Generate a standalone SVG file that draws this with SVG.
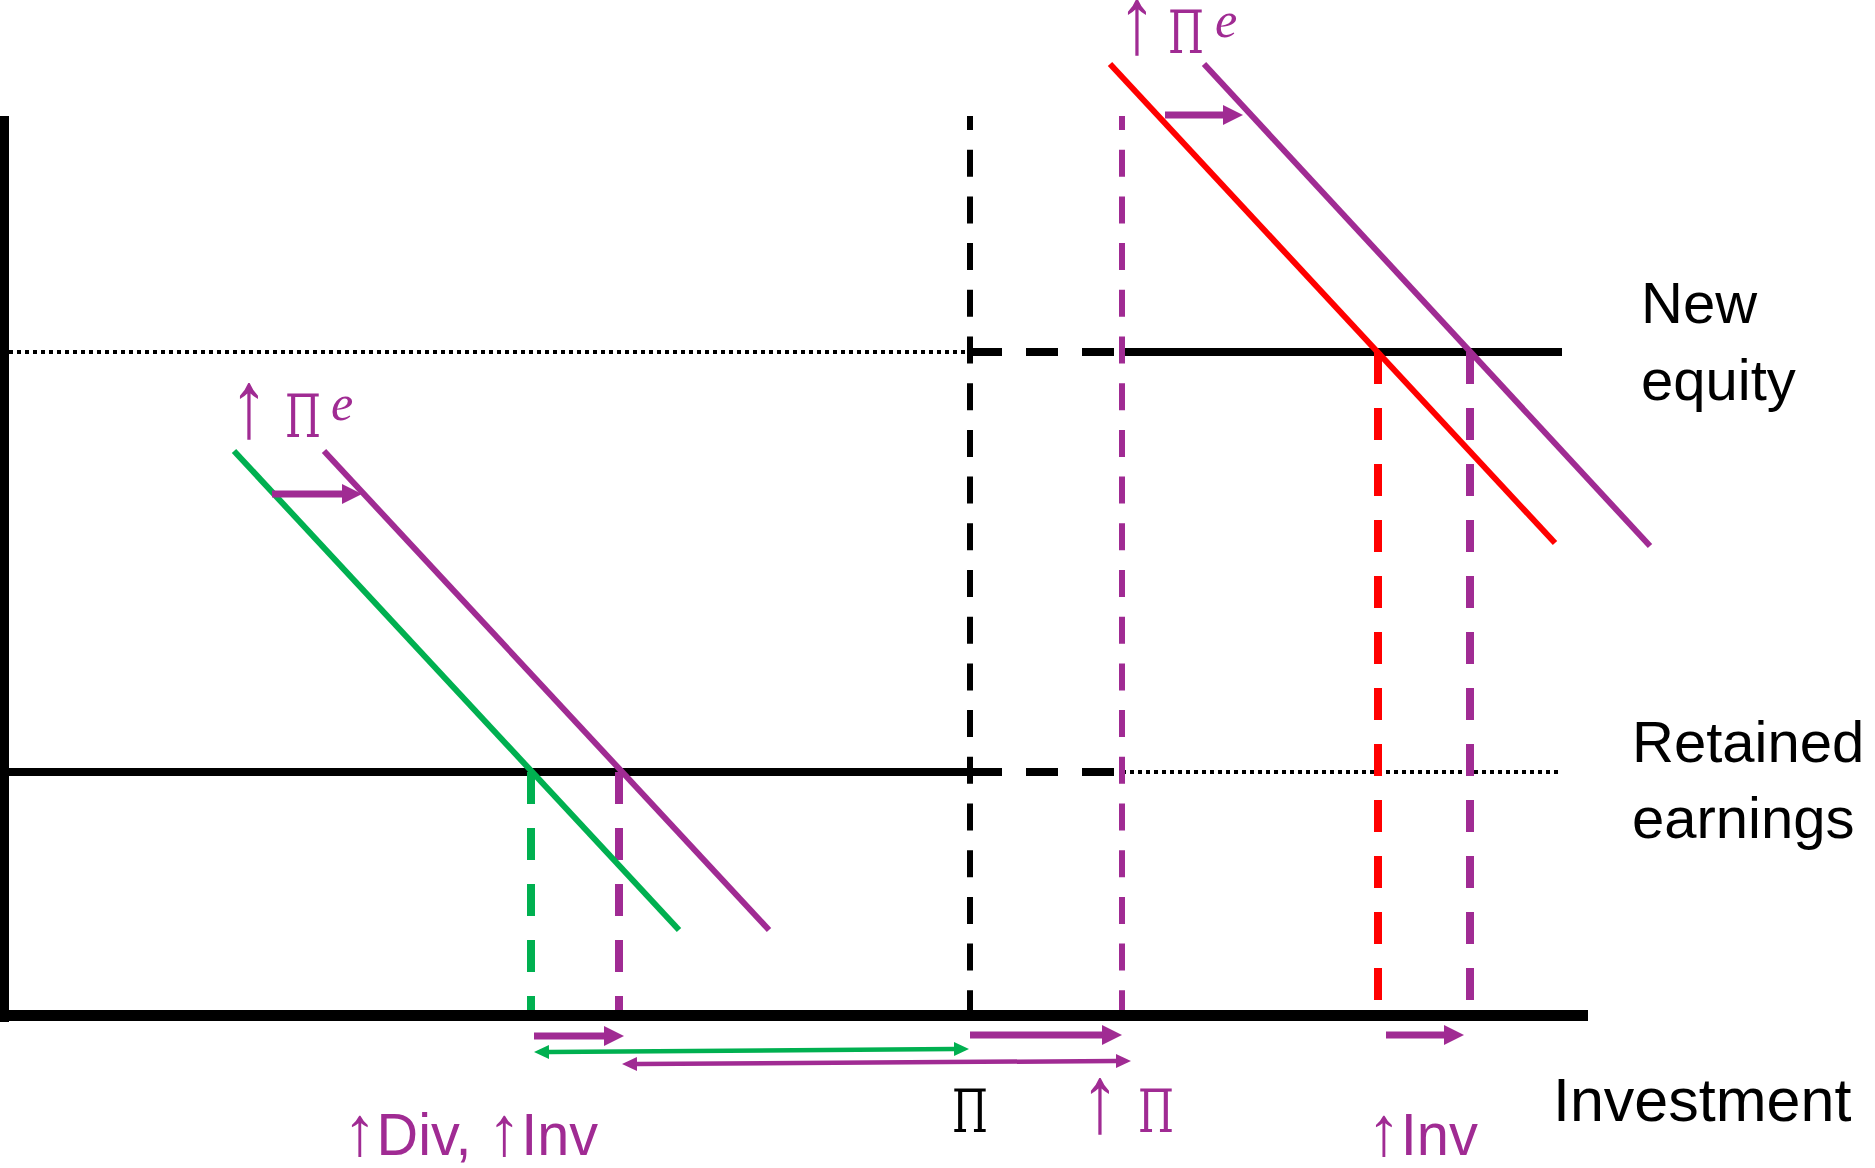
<svg xmlns="http://www.w3.org/2000/svg" width="1875" height="1168" viewBox="0 0 1875 1168">
<style>
.ax{stroke:#000;fill:none}
.blk{stroke:#000;stroke-width:8;fill:none}
.dot{stroke:#000;stroke-width:4;stroke-dasharray:4 4;fill:none}
.bdash{stroke:#000;stroke-width:8;stroke-dasharray:32 24;fill:none}
.vdash{stroke-width:6;stroke-dasharray:27 19.7;fill:none}
.cdash{stroke-width:8;stroke-dasharray:32 24;fill:none}
.curve{stroke-width:6;fill:none}
.pur{stroke:#A02B93}
.grn{stroke:#00B050}
.red{stroke:#FF0000}
.thick{stroke-width:7;fill:none}
.thin{stroke-width:4.5;fill:none}
.sans{font-family:"Liberation Sans",Arial,sans-serif}
.serif{font-family:"Liberation Serif","Times New Roman",serif}
.pi{font-family:"DejaVu Serif","Liberation Serif",serif;font-size:59px}
.tp{fill:#A02B93}
</style>
<defs>
<marker id="hp" markerUnits="userSpaceOnUse" markerWidth="20" markerHeight="20" refX="0" refY="10" orient="auto" viewBox="0 0 20 20"><polygon points="0,0 20,10 0,20" fill="#A02B93"/></marker>
<marker id="hps" markerUnits="userSpaceOnUse" markerWidth="15" markerHeight="14" refX="0" refY="7" orient="auto-start-reverse" viewBox="0 0 15 14"><polygon points="0,0 15,7 0,14" fill="#A02B93"/></marker>
<marker id="hgs" markerUnits="userSpaceOnUse" markerWidth="15" markerHeight="14" refX="0" refY="7" orient="auto-start-reverse" viewBox="0 0 15 14"><polygon points="0,0 15,7 0,14" fill="#00B050"/></marker>
</defs>

<g id="axes">
<rect x="0" y="116" width="9" height="906" fill="#000"/>
<rect x="0" y="1010" width="1588" height="11" fill="#000"/>
</g>

<g id="levels">
<line class="dot" x1="9" y1="352" x2="970" y2="352"/>
<line class="bdash" x1="970" y1="352" x2="1122" y2="352"/>
<line class="blk" x1="1122" y1="352" x2="1562" y2="352"/>
<line class="blk" x1="9" y1="772" x2="970" y2="772"/>
<line class="bdash" x1="970" y1="772" x2="1122" y2="772"/>
<line class="dot" x1="1122" y1="772" x2="1558" y2="772"/>
</g>

<g id="guides">
<line class="vdash" stroke="#000" x1="970" y1="116" x2="970" y2="1010" stroke-dashoffset="13"/>
<line class="vdash pur" x1="1122" y1="116" x2="1122" y2="1010" stroke-dashoffset="13"/>
<line class="cdash red" x1="1378" y1="352" x2="1378" y2="1002"/>
<line class="cdash pur" x1="1470" y1="352" x2="1470" y2="1002"/>
<line class="cdash grn" x1="531" y1="772" x2="531" y2="1010"/>
<line class="cdash pur" x1="619" y1="772" x2="619" y2="1010"/>
</g>

<g id="curves">
<line class="curve grn" x1="234" y1="451" x2="679" y2="930"/>
<line class="curve pur" x1="324" y1="451" x2="769" y2="930"/>
<line class="curve red" x1="1110" y1="64" x2="1555" y2="543"/>
<line class="curve pur" x1="1204" y1="64" x2="1650" y2="546"/>
</g>

<g id="connectors">
<line class="thick pur" x1="272" y1="494" x2="342" y2="494" marker-end="url(#hp)"/>
<line class="thick pur" x1="1165" y1="115" x2="1223" y2="115" marker-end="url(#hp)"/>
<line class="thick pur" x1="534" y1="1036" x2="604" y2="1036" marker-end="url(#hp)"/>
<line class="thick pur" x1="970" y1="1035" x2="1102" y2="1035" marker-end="url(#hp)"/>
<line class="thick pur" x1="1386" y1="1035" x2="1444" y2="1035" marker-end="url(#hp)"/>
<line class="thin grn" x1="549" y1="1052" x2="954" y2="1049" marker-start="url(#hgs)" marker-end="url(#hgs)"/>
<line class="thin pur" x1="637" y1="1064" x2="1116" y2="1061" marker-start="url(#hps)" marker-end="url(#hps)"/>
</g>

<g id="labels">
<g id="pie-top">
<text class="serif tp" transform="translate(1137,53) scale(0.8,1)" font-size="96" text-anchor="middle">↑</text>
<text class="pi tp" x="1168" y="53" textLength="36" lengthAdjust="spacingAndGlyphs">Π</text>
<text class="serif tp" x="1215" y="37" font-size="50" font-style="italic">e</text>
</g>
<g id="pie-left">
<text class="serif tp" transform="translate(249,437) scale(0.8,1)" font-size="96" text-anchor="middle">↑</text>
<text class="pi tp" x="285" y="437" textLength="36" lengthAdjust="spacingAndGlyphs">Π</text>
<text class="serif tp" x="331" y="420" font-size="50" font-style="italic">e</text>
</g>
<g id="pi">
<text class="pi" x="952" y="1132" textLength="36" lengthAdjust="spacingAndGlyphs" fill="#000">Π</text>
</g>
<g id="pi-up">
<text class="serif tp" transform="translate(1100,1132) scale(0.8,1)" font-size="96" text-anchor="middle">↑</text>
<text class="pi tp" x="1138" y="1132" textLength="36" lengthAdjust="spacingAndGlyphs">Π</text>
</g>
<text id="div-inv" class="sans tp" x="343" y="1155" font-size="60" textLength="255" lengthAdjust="spacingAndGlyphs"><tspan font-size="70">↑</tspan>Div, <tspan font-size="70">↑</tspan>Inv</text>
<text id="inv" class="sans tp" x="1367" y="1155" font-size="60" textLength="111" lengthAdjust="spacingAndGlyphs"><tspan font-size="70">↑</tspan>Inv</text>
<text id="investment" class="sans" x="1553" y="1121" font-size="61" fill="#000">Investment</text>
<text id="new-equity" class="sans" font-size="58" fill="#000"><tspan x="1641" y="323">New</tspan><tspan x="1641" y="400">equity</tspan></text>
<text id="retained" class="sans" font-size="58" fill="#000"><tspan x="1632" y="762">Retained</tspan><tspan x="1632" y="838">earnings</tspan></text>
</g>
</svg>
